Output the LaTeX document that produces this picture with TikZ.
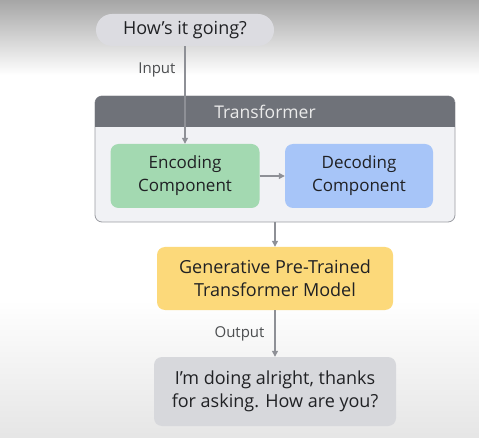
\documentclass[tikz,border=0pt]{standalone}
\usepackage{fontspec}
\setmainfont{Open Sans}
\usetikzlibrary{arrows.meta}
\definecolor{pillgray}{HTML}{DCDCE1}
\definecolor{hdr}{HTML}{6F7279}
\definecolor{bodyc}{HTML}{F1F2F5}
\definecolor{bord}{HTML}{9A9CA2}
\definecolor{encg}{HTML}{A3D9B1}
\definecolor{decb}{HTML}{A7C5F8}
\definecolor{gpty}{HTML}{FCD97A}
\definecolor{outg}{HTML}{D7D8DC}
\definecolor{arr}{HTML}{8E9096}
\definecolor{txt}{HTML}{202124}
\tikzset{
  box/.style={rounded corners=8pt, inner sep=0pt, align=center, text=txt, font=\fontsize{18}{23}\selectfont},
  comp/.style={box, font=\fontsize{17}{23}\selectfont},
  conn/.style={draw=arr, line width=1.2pt, -{Triangle[length=6pt,width=6pt]}},
  lbl/.style={text=txt!80, font=\fontsize{15}{18}\selectfont},
}
\begin{document}
\begin{tikzpicture}[x=1pt,y=-1pt]
\useasboundingbox (0,0) rectangle (479,438);
% background
\shade[top color=black!35, bottom color=white] (0,0) rectangle (479,75);
\fill[white] (0,75) rectangle (479,300);
\shade[top color=white, bottom color=black!10] (0,300) rectangle (479,438);
% transformer container
\node[draw=bord, line width=0.8pt, fill=bodyc, rounded corners=7pt, minimum width=360pt, minimum height=126pt, inner sep=0pt] (tr) at (275,159) {};
\begin{scope}
\clip[rounded corners=7pt] (95,96) rectangle (455,222);
\fill[hdr] (95,96) rectangle (455,127);
\end{scope}
\node[text=white!92!black, font=\fontsize{17.5}{20}\selectfont] (trl) at (265,112) {Transformer};
% nodes
\node[box, fill=pillgray, rounded corners=16pt, minimum width=178pt, minimum height=32pt] (q) at (185,30) {How’s it going?};
\node[comp, fill=encg, minimum width=149pt, minimum height=64pt] (enc) at (185,176) {Encoding\\Component};
\node[comp, fill=decb, minimum width=148pt, minimum height=64pt] (dec) at (359,176) {Decoding\\Component};
\node[box, fill=gpty, minimum width=236pt, minimum height=63pt] (gpt) at (275,278.5) {Generative Pre-Trained\\Transformer Model};
\node[box, fill=outg, minimum width=242pt, minimum height=69pt] (ans) at (275,391.5) {I’m doing alright, thanks\\for asking. How are you?};
% connectors
\draw[conn] (q.south) -- (enc.north);
\node[lbl, anchor=east] (inl) at (179,70) {Input};
\draw[conn] (enc.east) -- (dec.west);
\draw[conn] (tr.south -| gpt.north) -- (gpt.north);
\draw[conn] (gpt.south) -- (ans.north);
\node[lbl, anchor=east] (outl) at (268,334) {Output};
\end{tikzpicture}
\end{document}
